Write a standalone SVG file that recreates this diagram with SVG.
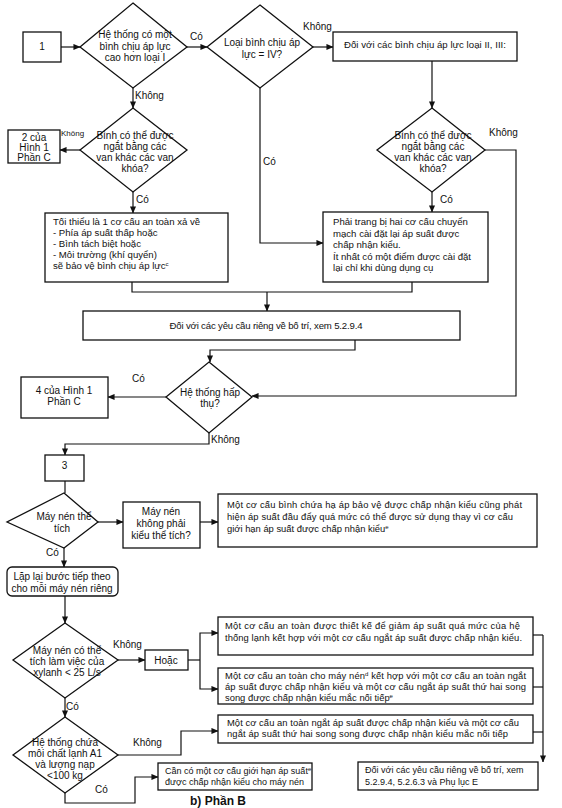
<svg xmlns="http://www.w3.org/2000/svg" width="562" height="808" viewBox="0 0 562 808">
<defs>
<marker id="ar" viewBox="0 0 8 8" refX="7.5" refY="4" markerWidth="7" markerHeight="7" markerUnits="userSpaceOnUse" orient="auto">
<path d="M0,0.5 L8,4 L0,7.5 Z" fill="#111"/>
</marker>
<style>
.ln{stroke:#111;stroke-width:1.2;fill:none}
.bx{fill:#fff;stroke:#111;stroke-width:1.3}
.t{font-family:"Liberation Sans",Arial,sans-serif;font-size:9px;fill:#111}
.u{font-size:9.6px}
.w{font-size:9.4px}
.d{font-size:10px}
.m{text-anchor:middle}
.lb{font-family:"Liberation Sans",Arial,sans-serif;font-size:10px;fill:#111}
.sup{font-size:6px}
</style>
</defs>
<rect width="562" height="808" fill="#fff"/>

<g id="connectors">
<path class="ln" d="M61,47 H80" marker-end="url(#ar)"/>
<path class="ln" d="M187,47 H207" marker-end="url(#ar)"/>
<path class="ln" d="M313,47 H333" marker-end="url(#ar)"/>
<path class="ln" d="M432,61 V108" marker-end="url(#ar)"/>
<path class="ln" d="M485,150 H516 V396 H252" marker-end="url(#ar)"/>
<path class="ln" d="M432,192 V212" marker-end="url(#ar)"/>
<path class="ln" d="M260,88 V243 H323" marker-end="url(#ar)"/>
<path class="ln" d="M133,88 V108" marker-end="url(#ar)"/>
<path class="ln" d="M80,150 H60" marker-end="url(#ar)"/>
<path class="ln" d="M133,192 V213" marker-end="url(#ar)"/>
<path class="ln" d="M132,282 V292 H412 V282"/>
<path class="ln" d="M267,292 V311" marker-end="url(#ar)"/>
<path class="ln" d="M355,340 V350 H210 V362" marker-end="url(#ar)"/>
<path class="ln" d="M166,397 H108" marker-end="url(#ar)"/>
<path class="ln" d="M209,433 V444 H65 V455" marker-end="url(#ar)"/>
<path class="ln" d="M65,481 V493"/>
<path class="ln" d="M98,522 H123" marker-end="url(#ar)"/>
<path class="ln" d="M200,522 H218" marker-end="url(#ar)"/>
<path class="ln" d="M64,548 V567" marker-end="url(#ar)"/>
<path class="ln" d="M65,596 V623" marker-end="url(#ar)"/>
<path class="ln" d="M118,660 H145" marker-end="url(#ar)"/>
<path class="ln" d="M188,660 H200"/>
<path class="ln" d="M200,660 V633 H218" marker-end="url(#ar)"/>
<path class="ln" d="M200,660 V689 H218" marker-end="url(#ar)"/>
<path class="ln" d="M533,635 H543"/>
<path class="ln" d="M533,687 H543"/>
<path class="ln" d="M533,732 H543"/>
<path class="ln" d="M543,635 V762" marker-end="url(#ar)"/>
<path class="ln" d="M65,698 V717" marker-end="url(#ar)"/>
<path class="ln" d="M118,755 H181 V731 H218" marker-end="url(#ar)"/>
<path class="ln" d="M65,793 V803 H135 V777 H158" marker-end="url(#ar)"/>
<text class="lb" x="190" y="40">Có</text>
<text class="lb" x="303" y="30">Không</text>
<text class="lb" x="489" y="136">Không</text>
<text class="lb" x="440" y="203">Có</text>
<text class="lb" x="263" y="165">Có</text>
<text class="lb" x="135" y="99">Không</text>
<text class="lb" x="61" y="136" style="font-size:8px">Không</text>
<text class="lb" x="136" y="203">Có</text>
<text class="lb" x="132" y="382">Có</text>
<text class="lb" x="211" y="443">Không</text>
<text class="lb" x="46" y="556">Có</text>
<text class="lb" x="113" y="648">Không</text>
<text class="lb" x="66" y="710">Có</text>
<text class="lb" x="133" y="746">Không</text>
<text class="lb" x="95" y="793">Có</text>
</g>

<g id="n1">
<rect class="bx" x="23" y="32" width="38" height="30"/>
<text class="t d m" x="42" y="50">1</text>
</g>

<g id="d1">
<polygon class="bx" points="133,3 187,47 133,88 80,47"/>
<text class="t d m" x="135" y="38">Hệ thống có một</text>
<text class="t d m" x="135" y="50">bình chịu áp lực</text>
<text class="t d m" x="135" y="61">cao hơn loại I</text>
</g>

<g id="d2">
<polygon class="bx" points="260,5 313,47 260,88 207,47"/>
<text class="t d m" x="262" y="46">Loại bình chịu áp</text>
<text class="t d m" x="262" y="58">lực = IV?</text>
</g>

<g id="b23">
<rect class="bx" x="333" y="32" width="184" height="29"/>
<text class="t u m" x="425" y="48" textLength="162" lengthAdjust="spacing">Đối với các bình chịu áp lực loại II, III:</text>
</g>

<g id="d3">
<polygon class="bx" points="432,108 485,150 432,192 377,150"/>
<text class="t d m" x="433" y="139">Bình có thể được</text>
<text class="t d m" x="433" y="150">ngắt bằng các</text>
<text class="t d m" x="433" y="161">van khác các van</text>
<text class="t d m" x="433" y="172">khóa?</text>
</g>

<g id="bPhai">
<rect class="bx" x="323" y="212" width="165" height="70"/>
<text class="t u" x="333" y="225">Phải trang bị hai cơ cấu chuyển</text>
<text class="t u" x="333" y="237">mạch cài đặt lại áp suất được</text>
<text class="t u" x="333" y="248">chấp nhận kiểu.</text>
<text class="t u" x="333" y="260">Ít nhất có một điểm được cài đặt</text>
<text class="t u" x="333" y="271">lại chỉ khi dùng dụng cụ</text>
</g>

<g id="dL2">
<polygon class="bx" points="133,108 187,150 133,192 80,150"/>
<text class="t d m" x="135" y="139">Bình có thể được</text>
<text class="t d m" x="135" y="150">ngắt bằng các</text>
<text class="t d m" x="135" y="161">van khác các van</text>
<text class="t d m" x="135" y="172">khóa?</text>
</g>

<g id="b2">
<rect class="bx" x="8" y="130" width="52" height="33"/>
<text class="t d m" x="34" y="141">2 của</text>
<text class="t d m" x="34" y="151">Hình 1</text>
<text class="t d m" x="34" y="161">Phần C</text>
</g>

<g id="bToi">
<rect class="bx" x="45" y="213" width="183" height="69"/>
<text class="t u" x="53" y="225">Tối thiểu là 1 cơ cấu an toàn xả về</text>
<text class="t u" x="53" y="236">- Phía áp suất thấp hoặc</text>
<text class="t u" x="53" y="247">- Bình tách biệt hoặc</text>
<text class="t u" x="53" y="258">- Môi trường (khí quyển)</text>
<text class="t u" x="53" y="269">sẽ bảo vệ bình chịu áp lực<tspan class="sup" dy="-3">c</tspan></text>
</g>

<g id="bMid">
<rect class="bx" x="83" y="311" width="377" height="29"/>
<text class="t u m" x="266" y="329" textLength="193" lengthAdjust="spacing">Đối với các yêu cầu riêng về bố trí, xem 5.2.9.4</text>
</g>

<g id="d4">
<polygon class="bx" points="209,362 252,397 209,433 166,397"/>
<text class="t d m" x="210" y="396">Hệ thống hấp</text>
<text class="t d m" x="210" y="407">thụ?</text>
</g>

<g id="b4">
<rect class="bx" x="21" y="377" width="87" height="41"/>
<text class="t d m" x="64" y="394">4 của Hình 1</text>
<text class="t d m" x="64" y="405">Phần C</text>
</g>

<g id="b3">
<rect class="bx" x="45" y="455" width="39" height="26"/>
<text class="t d m" x="64.5" y="469">3</text>
</g>

<g id="d5">
<polygon class="bx" points="64,493 98,522 64,548 7,522"/>
<text class="t d m" x="64" y="520">Máy nén thể</text>
<text class="t d m" x="62" y="532">tích</text>
</g>

<g id="bKhong">
<rect class="bx" x="123" y="502" width="77" height="46"/>
<text class="t d m" x="161" y="515">Máy nén</text>
<text class="t d m" x="161" y="527">không phải</text>
<text class="t d m" x="161" y="539">kiểu thể tích?</text>
</g>

<g id="bBinh">
<rect class="bx" x="218" y="494" width="319" height="53"/>
<text class="t w" x="227" y="508" textLength="295" lengthAdjust="spacing">Một cơ cấu bình chứa hạ áp bảo vệ được chấp nhận kiểu cũng phát</text>
<text class="t w" x="227" y="520" textLength="286" lengthAdjust="spacing">hiện áp suất đầu đẩy quá mức có thể được sử dụng thay vì cơ cấu</text>
<text class="t w" x="227" y="532">giới hạn áp suất được chấp nhận kiểu<tspan class="sup" dy="-3">e</tspan></text>
</g>

<g id="bLap">
<rect class="bx" x="7" y="567" width="111" height="29" rx="5"/>
<text class="t d m" x="62" y="580">Lặp lại bước tiếp theo</text>
<text class="t d m" x="62" y="592">cho mỗi máy nén riêng</text>
</g>

<g id="d6">
<polygon class="bx" points="65,623 118,660 65,698 13,660"/>
<text class="t d m" x="67" y="654">Máy nén có thể</text>
<text class="t d m" x="67" y="665">tích làm việc của</text>
<text class="t d m" x="67" y="676">xylanh &lt; 25 L/s</text>
</g>

<g id="bHoac">
<rect class="bx" x="145" y="650" width="43" height="20"/>
<text class="t d m" x="166" y="664">Hoặc</text>
</g>

<g id="bA">
<rect class="bx" x="218" y="617" width="315" height="38"/>
<text class="t w" x="225" y="629" textLength="295" lengthAdjust="spacing">Một cơ cấu an toàn được thiết kế để giảm áp suất quá mức của hệ</text>
<text class="t w" x="225" y="641" textLength="297" lengthAdjust="spacing">thống lạnh kết hợp với một cơ cấu ngắt áp suất được chấp nhận kiểu.</text>
</g>

<g id="bB">
<rect class="bx" x="218" y="668" width="315" height="36"/>
<text class="t w" x="225" y="679" textLength="301" lengthAdjust="spacing">Một cơ cấu an toàn cho máy nén<tspan class="sup" dy="-3">d</tspan><tspan dy="3"> kết hợp với một cơ cấu an toàn ngắt</tspan></text>
<text class="t w" x="225" y="690" textLength="301" lengthAdjust="spacing">áp suất được chấp nhận kiểu và một cơ cấu ngắt áp suất thứ hai song</text>
<text class="t w" x="225" y="701">song được chấp nhận kiểu mắc nối tiếp<tspan class="sup" dy="-3">e</tspan></text>
</g>

<g id="d7">
<polygon class="bx" points="65,717 118,755 65,793 13,755"/>
<text class="t d m" x="65" y="746">Hệ thống chứa</text>
<text class="t d m" x="65" y="757">môi chất lạnh A1</text>
<text class="t d m" x="65" y="768">và lượng nạp</text>
<text class="t d m" x="65" y="779">&lt;100 kg</text>
</g>

<g id="bC">
<rect class="bx" x="218" y="715" width="315" height="28"/>
<text class="t w" x="227" y="726" textLength="292" lengthAdjust="spacing">Một cơ cấu an toàn ngắt áp suất được chấp nhận kiểu và một cơ cấu</text>
<text class="t w" x="227" y="737" textLength="281" lengthAdjust="spacing">ngắt áp suất thứ hai song song được chấp nhận kiểu mắc nối tiếp</text>
</g>

<g id="bCan">
<rect class="bx" x="158" y="763" width="154" height="27"/>
<text class="t" x="165" y="774">Cần có một cơ cấu giới hạn áp suất<tspan class="sup" dy="-3">e</tspan></text>
<text class="t" x="165" y="785">được chấp nhận kiểu cho máy nén</text>
</g>

<g id="bFinal">
<rect class="bx" x="358" y="762" width="180" height="28"/>
<text class="t" x="365" y="773">Đối với các yêu cầu riêng về bố trí, xem</text>
<text class="t" x="365" y="785">5.2.9.4, 5.2.6.3 và Phụ lục E</text>
</g>

<text class="t" x="190" y="805" style="font-size:12px;font-weight:bold">b) Phần B</text>
</svg>
